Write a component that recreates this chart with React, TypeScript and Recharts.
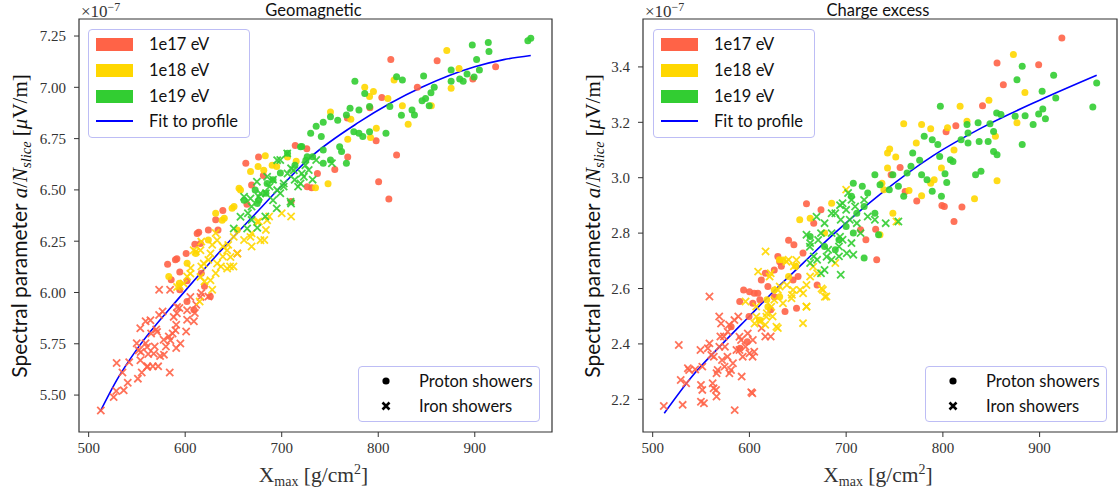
import React from 'react';
import { ComposedChart, Scatter, Line, XAxis, YAxis, ReferenceArea } from 'recharts';

type Pt = [number, number];

const RED = '#FF6347';
const GOLD = '#FFD700';
const GREEN = '#32CD32';
const SERIF = "'Liberation Serif', 'DejaVu Serif', serif";
const SANS = "Lato, 'Open Sans', sans-serif";

const xTicks = [500, 600, 700, 800, 900];
const geoTicks = [5.5, 5.75, 6.0, 6.25, 6.5, 6.75, 7.0, 7.25];
const ceTicks = [2.2, 2.4, 2.6, 2.8, 3.0, 3.2, 3.4];

// Geomagnetic, values in units of 1e-7
const geoProton17: Pt[] = [
  [813, 7.136], [861, 7.13], [921.6, 7.1], [898, 7.04], [840.5, 7.0], [791.4, 6.9], [803.7, 6.95],
  [797.8, 6.74], [819, 6.67], [768.4, 6.66], [755, 6.6], [800.4, 6.54], [811, 6.456], [731, 6.51],
  [737, 6.58], [714, 6.716], [726, 6.7], [768, 6.85], [662.8, 6.63], [681, 6.57], [664, 6.43],
  [639, 6.4], [631.6, 6.354], [614, 6.294], [624, 6.305], [634, 6.305], [610, 6.235], [601, 6.19],
  [591.4, 6.164], [581.8, 6.138], [594.4, 6.1], [601.9, 6.057], [585.5, 6.062], [594.4, 6.013],
  [601.9, 5.956], [609, 5.916], [620, 6.03], [626, 5.98], [616.7, 6.094], [668.8, 6.524], [709.7, 6.443],
  [676, 6.66], [612.4, 6.287], [615.8, 6.239], [589.9, 6.16], [726.4, 6.515],
];
const geoIron17: Pt[] = [
  [512.6, 5.425], [528.6, 5.52], [529, 5.656], [535, 5.61], [540.5, 5.56], [551, 5.58], [542, 5.66],
  [554, 5.71], [549.8, 5.753], [559, 5.86], [553.5, 5.826], [564.7, 5.8], [561.7, 5.7], [566.5, 5.64],
  [572, 5.64], [574, 5.69], [568.4, 5.737], [570, 5.82], [573, 5.89], [576.6, 5.907], [577.7, 5.77],
  [583, 5.786], [580, 5.737], [578, 5.697], [587, 5.8], [590.7, 5.729], [590.7, 5.843], [591.4, 5.899],
  [602, 5.867], [601, 5.81], [609, 5.86], [610, 5.9], [611.5, 5.94], [594, 5.924], [573, 6.013],
  [584.4, 6.013], [584, 5.61], [559, 5.753], [555, 5.61], [561, 5.64], [616.7, 5.997], [624, 5.98],
  [654, 6.19], [553.6, 5.67], [560.5, 5.637], [551.8, 5.718], [560.5, 5.734], [567.4, 5.702], [564, 5.865],
  [570.9, 5.808], [584.7, 5.767], [588.1, 5.881], [589.9, 5.816], [595, 5.751], [591.6, 5.929], [602, 5.913],
  [605.4, 5.978], [615.8, 5.978], [536.3, 5.523], [525.9, 5.49],
];
const geoProton18: Pt[] = [
  [871, 7.18], [883.7, 7.092], [875.5, 6.995], [816.4, 7.036], [810, 6.946], [786, 7.0], [795, 6.98],
  [791, 6.955], [825, 6.91], [831, 6.82], [798, 6.8], [792, 6.755], [768.4, 6.747], [855, 6.91],
  [750.5, 6.88], [771.6, 6.844], [748, 6.53], [735, 6.51], [715, 6.64], [683, 6.667], [675.5, 6.614],
  [667.7, 6.59], [655.8, 6.508], [650.6, 6.419], [640.5, 6.362], [631.6, 6.386], [694.8, 6.614],
  [706, 6.66], [654, 6.305], [624, 6.256], [611, 6.19], [602, 6.143], [583, 6.078], [594, 6.045],
  [681.4, 6.596], [657.3, 6.499], [648.6, 6.41], [638.3, 6.352], [690.1, 6.62],
];
const geoIron18: Pt[] = [
  [594.4, 6.03], [602, 6.078], [611, 6.2], [616.7, 6.127], [620, 6.054], [624, 6.159], [615, 5.956],
  [628, 6.013], [631.6, 6.094], [637, 6.127], [639, 6.175], [646.5, 6.127], [644.6, 6.232], [650, 6.127],
  [639, 6.224], [628, 6.232], [616.7, 6.248], [631.6, 6.29], [654, 6.19], [661, 6.256], [668.8, 6.289],
  [676.3, 6.346], [682, 6.256], [668.8, 6.224], [687, 6.37], [700, 6.386], [709.7, 6.37], [683.6, 6.305],
  [605.6, 6.119], [674.6, 6.344], [684.9, 6.352], [667.6, 6.271], [678, 6.255], [650.3, 6.271], [643.5, 6.206],
  [633.1, 6.255], [626.2, 6.19], [615.8, 6.206], [608.8, 6.206], [619.2, 6.141], [633.1, 6.141], [643.5, 6.117],
  [646.9, 6.173], [605.4, 6.092], [615.8, 6.076], [626.2, 6.06], [598.5, 6.044], [591.6, 6.027],
];
const geoProton19: Pt[] = [
  [958, 7.239], [955, 7.227], [914, 7.218], [897.4, 7.206], [914.7, 7.174], [901.9, 7.136], [904.8, 7.084],
  [875.5, 7.084], [875.5, 7.03], [884.4, 7.04], [888, 7.03], [892, 7.065], [899.3, 7.05], [847, 7.055],
  [858, 7.0], [854.6, 6.974], [849, 6.946], [845.4, 6.935], [852.8, 6.91], [819, 7.052], [825, 7.036],
  [812, 6.906], [824, 6.864], [837.5, 6.865], [835, 6.89], [808, 6.776], [775.8, 7.03], [786, 6.97],
  [791, 6.906], [780, 6.89], [770.8, 6.898], [767, 6.865], [758, 6.84], [750.5, 6.857], [743, 6.83],
  [735.7, 6.81], [730, 6.776], [741, 6.76], [774.7, 6.784], [780, 6.776], [791, 6.784], [784, 6.76],
  [760, 6.71], [743, 6.695], [732, 6.662], [762, 6.687], [767, 6.63], [720.8, 6.711], [706, 6.679],
  [698.6, 6.582], [691, 6.55], [713.7, 6.62], [725, 6.645], [743, 6.63], [750.5, 6.646], [661, 6.45],
  [672.5, 6.5], [683.6, 6.484], [676.2, 6.45], [719.5, 6.71], [726.4, 6.661], [684.9, 6.531], [674.6, 6.434],
];
const geoIron19: Pt[] = [
  [661, 6.467], [665, 6.386], [668.8, 6.419], [674.3, 6.54], [676.2, 6.467], [668.8, 6.354], [674.7, 6.315],
  [683.6, 6.484], [687.4, 6.516], [691, 6.45], [694.8, 6.41], [698.5, 6.646], [702, 6.516], [706, 6.58],
  [709.7, 6.605], [713.4, 6.549], [717, 6.516], [720.8, 6.58], [724.5, 6.62], [728, 6.597], [735.7, 6.646],
  [732, 6.55], [752, 6.63], [709.7, 6.434], [691, 6.55], [698.5, 6.484], [683, 6.37], [667.6, 6.458],
  [684.9, 6.564], [695.3, 6.645], [705.7, 6.678], [712.5, 6.596], [702.1, 6.531], [709.1, 6.442], [678, 6.483],
  [695.3, 6.499], [719.5, 6.531], [722.9, 6.564], [650.3, 6.312], [664.2, 6.312], [657.3, 6.369],
];
const geoFit: Pt[] = [
  [512, 5.42], [530, 5.58], [551, 5.73], [593, 5.97], [640, 6.22], [670, 6.37], [700, 6.52], [730, 6.66],
  [780, 6.83], [845, 7.0], [900, 7.1], [930, 7.135], [958, 7.155],
];

// Charge excess, values in units of 1e-7
const ceProton17: Pt[] = [
  [923, 3.504], [856, 3.414], [899, 3.408], [862.5, 3.336], [841, 3.26], [813.4, 3.188], [803.3, 3.166],
  [755.8, 3.037], [746.5, 3.011], [761, 2.95], [773, 2.916], [799, 2.9], [801.5, 2.896], [819.7, 2.894],
  [811.5, 2.842], [730.5, 2.814], [731.6, 2.704], [720.4, 2.776], [714.9, 2.812], [659, 2.906], [674, 2.884],
  [666.5, 2.836], [640.5, 2.774], [646, 2.758], [629.4, 2.716], [633, 2.68], [655.4, 2.728], [670, 2.613],
  [625.7, 2.667], [616.4, 2.655], [594, 2.595], [590, 2.553], [605, 2.583], [610.8, 2.559], [625.7, 2.57],
  [622, 2.523], [636.8, 2.517], [648.7, 2.529], [599.6, 2.499], [597.8, 2.408], [590.3, 2.384],
  [631.3, 2.697], [612.3, 2.631], [600.1, 2.588], [608.7, 2.583], [603.5, 2.547], [619.1, 2.607],
  [650.3, 2.643], [645.1, 2.631], [581.1, 2.462],
];
const ceIron17: Pt[] = [
  [511.5, 2.176], [531, 2.18], [527, 2.396], [529, 2.27], [534.6, 2.258], [536.4, 2.312], [544, 2.308],
  [549.4, 2.378], [551.3, 2.318], [551.3, 2.234], [553, 2.186], [557, 2.384], [560.6, 2.36], [558.7, 2.571],
  [563, 2.24], [566, 2.21], [566, 2.294], [568.8, 2.499], [571.7, 2.342], [573.6, 2.427], [574.7, 2.39],
  [577.3, 2.354], [574.3, 2.318], [579, 2.469], [581, 2.306], [584.8, 2.161], [586.6, 2.378], [588.5, 2.499],
  [592, 2.282], [596, 2.39], [603.3, 2.354], [605, 2.372], [603, 2.222], [591.4, 2.414], [570, 2.427],
  [558.7, 2.402], [612.6, 2.457], [616.4, 2.427], [622, 2.427], [563.2, 2.354], [583, 2.33],
  [568.9, 2.39], [567.2, 2.306], [579.3, 2.294], [570.7, 2.474], [577.5, 2.444], [584.5, 2.486], [589.7, 2.378],
  [600.1, 2.366], [593.1, 2.354], [537.7, 2.306], [549.9, 2.252], [562, 2.258], [565.5, 2.234], [549.9, 2.191],
  [601.9, 2.226], [589.7, 2.426], [603.5, 2.414], [598.3, 2.438],
];
const ceProton18: Pt[] = [
  [872.9, 3.445], [847.6, 3.28], [884.8, 3.308], [817.8, 3.258], [824.9, 3.204], [876.6, 3.198], [854.3, 3.15],
  [811.5, 3.1], [804.8, 3.18], [787.4, 3.177], [778, 3.192], [759.5, 3.195], [772.5, 3.125], [742.8, 3.089],
  [745, 3.104], [751.3, 3.075], [742.8, 3.035], [798.5, 3.035], [787.4, 2.98], [791, 2.993], [778, 2.935],
  [856, 2.989], [832.7, 2.924], [765, 2.954], [737, 2.98], [739, 2.957], [748.3, 2.872], [735, 2.794],
  [685, 2.908], [652, 2.848], [677.7, 2.8], [662.8, 2.854], [631, 2.704], [640.5, 2.643], [648, 2.68],
  [625.7, 2.595], [618, 2.559], [631.3, 2.57], [634.7, 2.703], [619.1, 2.534], [610.5, 2.486],
];
const ceIron18: Pt[] = [
  [616.7, 2.734], [609, 2.661], [622, 2.655], [629.4, 2.595], [638.7, 2.613], [644, 2.577], [625.7, 2.559],
  [618, 2.511], [610.8, 2.481], [616.4, 2.469], [624, 2.499], [629.4, 2.457], [596, 2.553], [607, 2.535],
  [652.4, 2.595], [659, 2.535], [655.4, 2.475], [659, 2.613], [662.8, 2.643], [670, 2.655], [676, 2.595],
  [679.6, 2.571], [646, 2.68], [640.5, 2.704], [688.8, 2.692], [700, 2.957], [752, 2.842],
  [620.9, 2.643], [631.3, 2.607], [638.3, 2.697], [645.1, 2.595], [655.5, 2.583], [659, 2.534], [627.9, 2.462],
  [617.5, 2.498], [607.1, 2.498], [605.3, 2.474], [622.6, 2.534], [634.7, 2.547], [678, 2.57], [674.6, 2.6],
  [665.9, 2.679], [648.6, 2.703], [643.5, 2.565],
];
const ceProton19: Pt[] = [
  [959, 3.342], [955, 3.255], [914.5, 3.37], [916.7, 3.288], [882, 3.402], [876.6, 3.354], [902.6, 3.312],
  [903.3, 3.248], [906, 3.213], [899, 3.23], [893.3, 3.192], [885, 3.224], [874.7, 3.222], [882, 3.12],
  [855.6, 3.234], [860, 3.228], [848.7, 3.195], [852.4, 3.167], [852.4, 3.095], [856, 3.083], [846.8, 3.131],
  [836.4, 3.198], [837.5, 3.131], [825, 3.192], [826, 3.125], [818.8, 3.137], [826, 3.161], [797.4, 3.258],
  [780.7, 3.15], [789, 3.137], [794.8, 3.12], [807.8, 3.065], [810.4, 3.059], [796.7, 3.077], [768.8, 3.089],
  [776, 3.063], [767, 3.041], [763, 3.017], [778, 3.011], [783.6, 2.993], [802.2, 3.014], [804, 2.983],
  [789, 2.951], [798.5, 2.933], [833.8, 3.011], [839.4, 3.023], [759.5, 2.933], [748.3, 3.011], [754, 2.969],
  [744.6, 2.957], [735, 2.975], [729.7, 3.011], [722.3, 2.945], [716.7, 2.969], [707.4, 2.98], [705.5, 2.933],
  [718.6, 2.896], [729.7, 2.872], [733.5, 2.794], [718.6, 2.71], [700, 2.824], [707.4, 2.8], [692.6, 2.776],
  [677.7, 2.752], [688.8, 2.74], [662.8, 2.788], [711, 2.872],
];
const ceIron19: Pt[] = [
  [659, 2.794], [662.8, 2.764], [666.5, 2.716], [670, 2.704], [662.8, 2.692], [674, 2.655], [677.7, 2.667],
  [694.4, 2.65], [685, 2.704], [692.6, 2.716], [681.4, 2.74], [677.7, 2.836], [685, 2.8], [688.8, 2.872],
  [694.4, 2.848], [696.3, 2.908], [700, 2.884], [702, 2.945], [705.5, 2.92], [709.3, 2.896], [703.7, 2.848],
  [711, 2.836], [714.9, 2.8], [705.5, 2.764], [707.4, 2.722], [696.3, 2.776], [722.3, 2.86], [729.7, 2.848],
  [740.9, 2.836], [754, 2.842], [718.6, 2.92], [692.6, 2.752], [685, 2.872], [674, 2.8],
  [679.8, 2.715], [700.6, 2.727], [693.7, 2.787], [693.7, 2.901], [669.4, 2.859], [662.5, 2.751], [671.1, 2.775],
];
const ceFit: Pt[] = [
  [512, 2.15], [540, 2.28], [572, 2.4], [600, 2.5], [628, 2.6], [655, 2.69], [685, 2.79], [735, 2.94],
  [790, 3.08], [840, 3.18], [900, 3.28], [959, 3.37],
];

const toRows = (pts: Pt[]) => pts.map(([x, y]) => ({ x, y }));

const dotShape = (color: string) => (p: any) => (
  <circle cx={p.cx} cy={p.cy} r={3.5} fill={color} fillOpacity={0.9} />
);
const crossShape = (color: string) => (p: any) => {
  const s = 3.6;
  return (
    <path
      d={`M${p.cx - s},${p.cy - s}L${p.cx + s},${p.cy + s}M${p.cx - s},${p.cy + s}L${p.cx + s},${p.cy - s}`}
      stroke={color}
      strokeWidth={1.8}
      strokeOpacity={0.9}
      fill="none"
    />
  );
};

interface PanelProps {
  left: number;
  width: number;
  yWidth: number;
  rightMargin: number;
  yDomain: [number, number];
  yTicks: number[];
  digits: number;
  groups: { pts: Pt[]; color: string; iron: boolean }[];
  fit: Pt[];
  title: string;
  labelX: number;
  legendInset: number;
  markerInset: number;
}

const H = 498;

const Panel: React.FC<PanelProps> = ({
  left, width, yWidth, rightMargin, yDomain, yTicks, digits, groups, fit, title, labelX, legendInset, markerInset,
}) => {
  const plotLeft = yWidth;
  const plotRight = width - rightMargin;
  const mid = (plotLeft + plotRight) / 2;
  return (
    <div style={{ position: 'absolute', left, top: 0, width, height: H }}>
      <ComposedChart width={width} height={H} margin={{ top: 19, right: rightMargin, bottom: 26, left: 0 }}>
        <XAxis
          type="number"
          dataKey="x"
          domain={[490, 980]}
          ticks={xTicks}
          allowDataOverflow
          height={40}
          axisLine={false}
          tickSize={5}
          tickMargin={5}
          tickLine={{ stroke: '#333' }}
          tick={{ fontFamily: SERIF, fontSize: 15, fill: '#333' }}
        />
        <YAxis
          type="number"
          dataKey="y"
          domain={yDomain}
          ticks={yTicks}
          allowDataOverflow
          width={yWidth}
          axisLine={false}
          tickSize={5}
          tickMargin={8}
          tickLine={{ stroke: '#333' }}
          tickFormatter={(v: number) => v.toFixed(digits)}
          tick={{ fontFamily: SERIF, fontSize: 15, fill: '#333' }}
        />
        {groups.map((g, i) => (
          <Scatter
            key={i}
            data={toRows(g.pts)}
            dataKey="y"
            isAnimationActive={false}
            shape={g.iron ? crossShape(g.color) : dotShape(g.color)}
          />
        ))}
        <Line
          data={toRows(fit)}
          dataKey="y"
          type="monotone"
          stroke="#0000FF"
          strokeWidth={1.6}
          dot={false}
          activeDot={false}
          isAnimationActive={false}
        />
        <ReferenceArea x1={490} x2={980} y1={yDomain[0]} y2={yDomain[1]} fill="none" stroke="#333" strokeWidth={1.2} />
      </ComposedChart>

      <svg width={width} height={H} style={{ position: 'absolute', left: 0, top: 0, pointerEvents: 'none' }}>
        <text x={mid - 2} y={16} textAnchor="middle" fontFamily={SANS} fontSize={16.5} fill="#111">{title}</text>
        <text x={plotLeft + 2} y={17} fontFamily={SERIF} fontSize={17} fill="#333">
          ×10<tspan dy={-6} fontSize={12}>−7</tspan>
        </text>
        <text x={mid - 2} y={482} textAnchor="middle" fontFamily={SERIF} fontSize={21.5} fill="#333">
          X<tspan dy={4} fontSize={14}>max</tspan><tspan dy={-4}> [g/cm</tspan><tspan dy={-8} fontSize={14}>2</tspan><tspan dy={8}>]</tspan>
        </text>
        <text
          transform={`translate(${labelX},226) rotate(-90)`}
          textAnchor="middle"
          fontSize={21}
          fill="#111"
        >
          <tspan fontFamily={SANS}>Spectral parameter </tspan>
          <tspan fontFamily={SERIF} fontStyle="italic">a</tspan>
          <tspan fontFamily={SERIF}>/</tspan>
          <tspan fontFamily={SERIF} fontStyle="italic">N</tspan>
          <tspan fontFamily={SERIF} fontStyle="italic" fontSize={14.5} dy={4}>slice</tspan>
          <tspan fontFamily={SERIF} dy={-4}> [</tspan>
          <tspan fontFamily={SERIF} fontStyle="italic">μ</tspan>
          <tspan fontFamily={SERIF}>V/m]</tspan>
        </text>
      </svg>

      <div
        style={{
          position: 'absolute', left: plotLeft + legendInset, top: 29, width: 162, height: 109, boxSizing: 'border-box',
          border: '1px solid #bdbdf5', borderRadius: 4, background: 'rgba(255,255,255,0.8)',
          fontFamily: SANS, fontSize: 16.5, color: '#111', whiteSpace: 'nowrap',
        }}
      >
        {[
          { c: RED, t: '1e17 eV' },
          { c: GOLD, t: '1e18 eV' },
          { c: GREEN, t: '1e19 eV' },
        ].map((r, i) => (
          <div key={i} style={{ position: 'absolute', left: 0, top: 6 + i * 26, height: 16, display: 'flex', alignItems: 'center' }}>
            <div style={{ marginLeft: 7, width: 37, height: 13, background: r.c }} />
            <span style={{ marginLeft: 16, lineHeight: '16px' }}>{r.t}</span>
          </div>
        ))}
        <div style={{ position: 'absolute', left: 0, top: 83, height: 16, display: 'flex', alignItems: 'center' }}>
          <div style={{ marginLeft: 7, width: 37, height: 1.6, background: '#0000FF' }} />
          <span style={{ marginLeft: 16, lineHeight: '16px' }}>Fit to profile</span>
        </div>
      </div>

      <div
        style={{
          position: 'absolute', left: plotRight - markerInset - 182, top: 366, width: 182, height: 56, boxSizing: 'border-box',
          border: '1px solid #bdbdf5', borderRadius: 4, background: 'rgba(255,255,255,0.8)',
          fontFamily: SANS, fontSize: 16.5, color: '#111', whiteSpace: 'nowrap',
        }}
      >
        <svg width={20} height={56} style={{ position: 'absolute', left: 17, top: 0 }}>
          <circle cx={10} cy={14} r={3.6} fill="#000" />
          <path d="M6.5,35.5L13.5,42.5M6.5,42.5L13.5,35.5" stroke="#000" strokeWidth={2.6} />
        </svg>
        <div style={{ position: 'absolute', left: 60, top: 5, lineHeight: '18px' }}>Proton showers</div>
        <div style={{ position: 'absolute', left: 60, top: 30, lineHeight: '18px' }}>Iron showers</div>
      </div>
    </div>
  );
};

const App: React.FC = () => {
  return (
    <div style={{ position: 'absolute', left: 0, top: 0, width: 1118, height: 498, background: '#fff' }}>
      <Panel
        left={0}
        width={560}
        yWidth={79}
        rightMargin={8}
        yDomain={[5.32, 7.333]}
        yTicks={geoTicks}
        digits={2}
        title="Geomagnetic"
        labelX={27}
        legendInset={9}
        markerInset={12}
        fit={geoFit}
        groups={[
          { pts: geoProton17, color: RED, iron: false },
          { pts: geoIron17, color: RED, iron: true },
          { pts: geoProton18, color: GOLD, iron: false },
          { pts: geoIron18, color: GOLD, iron: true },
          { pts: geoProton19, color: GREEN, iron: false },
          { pts: geoIron19, color: GREEN, iron: true },
        ]}
      />
      <Panel
        left={559}
        width={559}
        yWidth={84}
        rightMargin={1}
        yDomain={[2.082, 3.573]}
        yTicks={ceTicks}
        digits={1}
        title="Charge excess"
        labelX={41}
        legendInset={10}
        markerInset={10}
        fit={ceFit}
        groups={[
          { pts: ceProton17, color: RED, iron: false },
          { pts: ceIron17, color: RED, iron: true },
          { pts: ceProton18, color: GOLD, iron: false },
          { pts: ceIron18, color: GOLD, iron: true },
          { pts: ceProton19, color: GREEN, iron: false },
          { pts: ceIron19, color: GREEN, iron: true },
        ]}
      />
    </div>
  );
};

export default App;
